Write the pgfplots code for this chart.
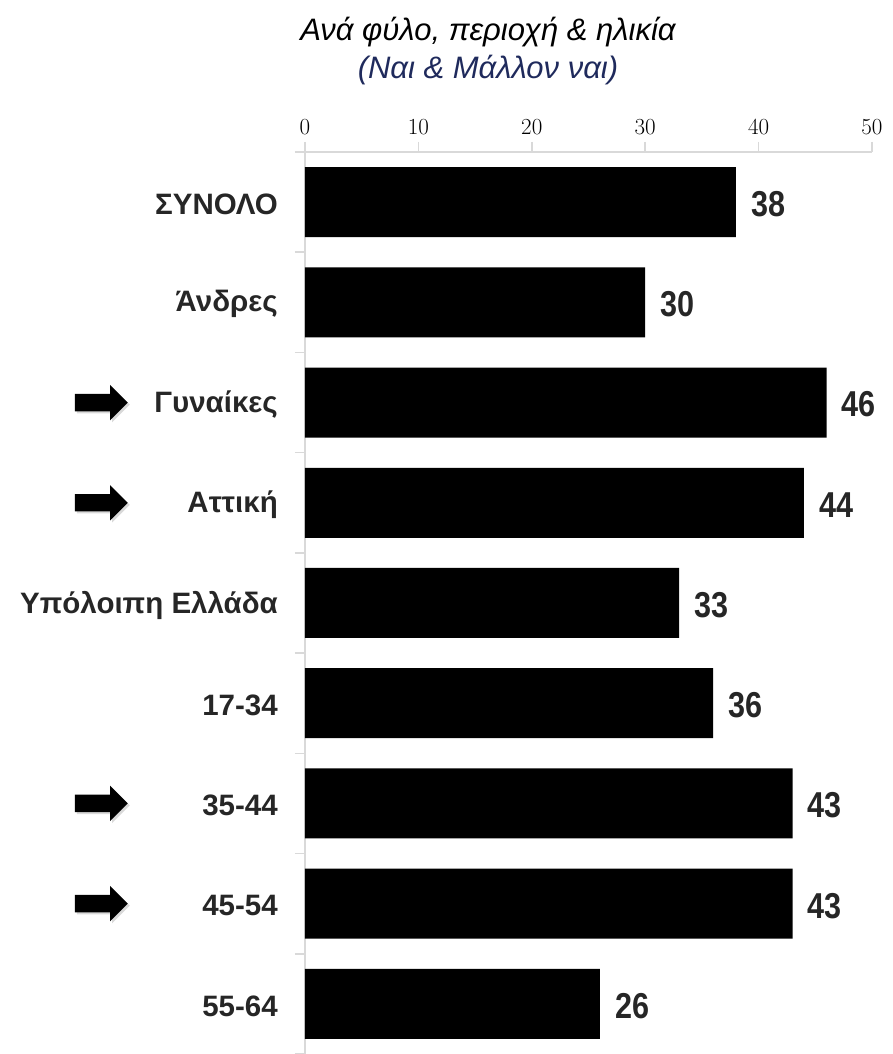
\documentclass[border=0pt]{standalone}
\usepackage{fontspec}
\setmainfont{Liberation Sans}
\newfontfamily\narrowfont[FakeStretch=0.85]{Liberation Sans}
\newfontfamily\lmfont{Latin Modern Roman}
\usepackage{pgfplots}
\pgfplotsset{compat=1.18}
\usepackage{pgfplotstable}
\usetikzlibrary{shapes.arrows,shadows}
\definecolor{txt}{HTML}{262626}
\definecolor{navy}{HTML}{1F2A5C}
\definecolor{axgray}{HTML}{D9D9D9}
\pgfplotstableread{
y v
8 38
7 30
6 46
5 44
4 33
3 36
2 43
1 43
0 26
}\data
\tikzset{bigarrow/.style={single arrow, fill=black, draw=none, minimum height=53pt, minimum width=35pt,
        single arrow head extend=9pt, single arrow tip angle=90, inner xsep=0pt, inner ysep=8.5pt,
        drop shadow={shadow xshift=2pt, shadow yshift=-2pt, opacity=0.3}}}
\begin{document}
\begin{tikzpicture}
\path[use as bounding box] (-305pt,0pt) rectangle (587pt,1054pt);
\begin{axis}[
  at={(0pt,0pt)}, anchor=south west,
  scale only axis, width=567pt, height=902pt,
  xbar, bar width=70pt,
  xmin=0, xmax=50, ymin=-0.5, ymax=8.5,
  clip=false,
  axis x line=top, axis y line=left,
  axis line style={draw=axgray, line width=1.5pt, -},
  tick align=outside,
  major tick length=10pt,
  tick style={draw=axgray, line width=1.5pt},
  xtick={0,10,...,50},
  xticklabel={\pgfmathprintnumber[assume math mode=true]{\tick}},
  xticklabel style={font=\lmfont\fontsize{23}{23}\selectfont, text=black, yshift=4pt},
  ytick={-0.5,0.5,1.5,2.5,3.5,4.5,5.5,6.5,7.5,8.5},
  yticklabels={},
  extra y ticks={0,1,2,3,4,5,6,7,8},
  extra y tick labels={55-64,45-54,35-44,17-34,Υπόλοιπη Ελλάδα,Αττική,Γυναίκες,Άνδρες,ΣΥΝΟΛΟ},
  extra y tick style={tick style={draw=none},
    yticklabel style={font=\fontsize{29.5}{29.5}\selectfont\bfseries, text=txt, anchor=east, inner sep=0pt, xshift=-17pt, yshift=-2pt}},
  nodes near coords={\pgfmathprintnumber[assume math mode=true]{\pgfplotspointmeta}},
  every node near coord/.append style={font=\narrowfont\fontsize{36}{36}\selectfont\bfseries, text=txt, anchor=west, inner sep=0pt, xshift=15pt, yshift=-2pt},
]
\addplot[fill=black, draw=none] table[x=v, y=y] {\data};
\node[bigarrow] at (axis cs:-18.35,6) {};
\node[bigarrow] at (axis cs:-18.35,5) {};
\node[bigarrow] at (axis cs:-18.35,2) {};
\node[bigarrow] at (axis cs:-18.35,1) {};
\end{axis}
\node[font=\itshape\fontsize{31}{31}\selectfont, text=black] at (183pt,1022pt) {Ανά φύλο, περιοχή \& ηλικία};
\node[font=\itshape\fontsize{31}{31}\selectfont, text=navy] at (183pt,984pt) {(Ναι \& Μάλλον ναι)};
\end{tikzpicture}
\end{document}
